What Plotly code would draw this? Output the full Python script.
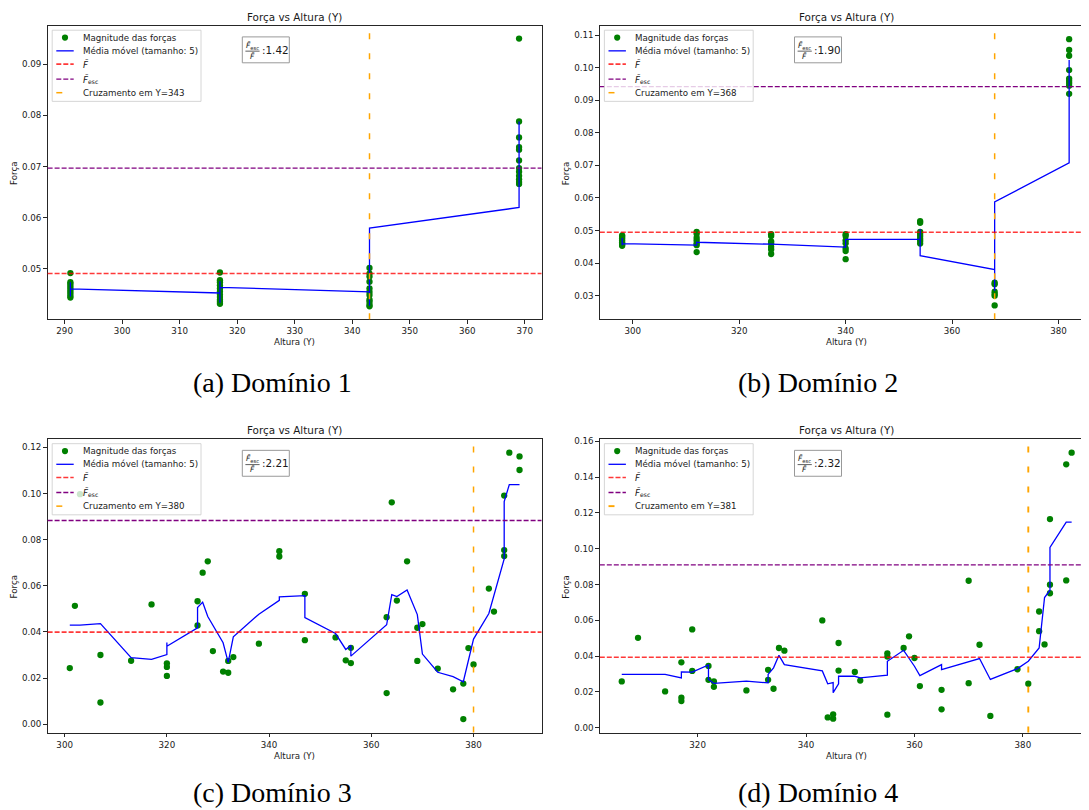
import plotly.graph_objects as go

# The page body has a default 8px margin, so the figure is placed at (8, 8)
# and sized to fill the rest of the 1089x810 window.
OX, OY = 8, 8
W, H = 1089 - OX, 810 - OY

# ---------------- data ----------------
# (a) Domínio 1
a_x = [291, 291, 291, 291, 291, 291, 291, 291, 291, 291,
       317, 317, 317, 317, 317, 317, 317, 317, 317, 317, 317,
       343, 343, 343, 343, 343, 343, 343, 343, 343, 343, 343,
       369, 369, 369, 369, 369, 369, 369, 369, 369, 369, 369, 369]
a_y = [0.0492, 0.0474, 0.0471, 0.0467, 0.0463, 0.0459, 0.0455, 0.0451, 0.0447, 0.0444,
       0.0493, 0.0478, 0.0474, 0.0468, 0.0462, 0.0456, 0.0450, 0.0445, 0.0440, 0.0436, 0.0432,
       0.0502, 0.0491, 0.0485, 0.0475, 0.0462, 0.0455, 0.0449, 0.0440, 0.0436, 0.0430, 0.0427,
       0.0950, 0.0788, 0.0757, 0.0738, 0.0733, 0.0712, 0.0697, 0.0690, 0.0682, 0.0675, 0.0670, 0.0666]
a_ma_x = [291, 291, 291, 317, 317, 317, 317, 343, 343, 343, 369, 369]
a_ma_y = [0.0474, 0.0446, 0.0461, 0.0453, 0.0476, 0.0434, 0.0464, 0.0455, 0.0428, 0.0580, 0.0620, 0.0788]

# (b) Domínio 2
b_x = [298, 298, 298, 298, 298, 298, 298, 298,
       312, 312, 312, 312, 312, 312, 312,
       326, 326, 326, 326, 326, 326, 326,
       340, 340, 340, 340, 340, 340, 340,
       354, 354, 354, 354, 354, 354, 354, 354,
       368, 368, 368, 368, 368, 368,
       382, 382, 382, 382, 382, 382, 382, 382, 382]
b_y = [0.0485, 0.0481, 0.0476, 0.0470, 0.0464, 0.0460, 0.0456, 0.0453,
       0.0496, 0.0490, 0.0478, 0.0470, 0.0461, 0.0455, 0.0434,
       0.0489, 0.0483, 0.0467, 0.0461, 0.0450, 0.0442, 0.0428,
       0.0489, 0.0483, 0.0470, 0.0461, 0.0445, 0.0437, 0.0412,
       0.0529, 0.0524, 0.0496, 0.0490, 0.0483, 0.0475, 0.0468, 0.0460,
       0.0340, 0.0335, 0.0312, 0.0305, 0.0300, 0.0270,
       0.1088, 0.1055, 0.1037, 0.0993, 0.0967, 0.0960, 0.0953, 0.0945, 0.0920]
b_ma_x = [298, 298, 298, 312, 312, 312, 326, 326, 340, 340, 340, 354, 354, 354, 368, 368, 368, 382, 382]
b_ma_y = [0.0477, 0.0455, 0.0460, 0.0455, 0.0466, 0.0464, 0.0458, 0.0458, 0.0449, 0.0474, 0.0473,
          0.0473, 0.0505, 0.0423, 0.0380, 0.0315, 0.0588, 0.0708, 0.1024]

# (c) Domínio 3
c_x = [301, 302, 303, 307, 307, 313, 317, 320, 320, 320, 326, 326, 327, 328, 329, 331, 332, 332,
       333, 338, 342, 342, 347, 347, 353, 355, 356, 356, 363, 363, 364, 365, 367, 369, 369, 370,
       373, 376, 378, 378, 379, 380, 383, 384, 386, 386, 386, 387, 389, 389]
c_y = [0.0243, 0.0513, 0.0997, 0.0300, 0.0094, 0.0275, 0.0519, 0.0264, 0.0248, 0.0209, 0.0533,
       0.0428, 0.0657, 0.0706, 0.0317, 0.0228, 0.0274, 0.0223, 0.0291, 0.0349, 0.0750, 0.0727,
       0.0565, 0.0364, 0.0376, 0.0277, 0.0331, 0.0265, 0.0464, 0.0135, 0.0962, 0.0536, 0.0706,
       0.0418, 0.0274, 0.0434, 0.0241, 0.0151, 0.0176, 0.0022, 0.0330, 0.0259, 0.0588, 0.0488,
       0.0991, 0.0755, 0.0729, 0.1177, 0.1161, 0.1102]
c_ma_x = [301, 303, 307, 313, 317, 320, 320, 320, 326, 326, 327, 328, 331, 332, 333, 338, 342, 342,
          347, 347, 353, 355, 356, 356, 363, 364, 365, 367, 369, 370, 373, 376, 378, 380, 383, 386,
          386, 387, 389]
c_ma_y = [0.0429, 0.0429, 0.0436, 0.0288, 0.0281, 0.0302, 0.0354, 0.0338, 0.0418, 0.0506, 0.0529,
          0.0467, 0.0353, 0.0268, 0.0379, 0.0477, 0.0537, 0.0552, 0.0557, 0.0462, 0.0393, 0.0324,
          0.0341, 0.0295, 0.0431, 0.0562, 0.0553, 0.0582, 0.0475, 0.0304, 0.0225, 0.0206, 0.0184,
          0.0369, 0.0480, 0.0717, 0.0965, 0.1039, 0.1039]

# (d) Domínio 4
d_x = [306, 309, 314, 317, 317, 317, 319, 319, 322, 322, 323, 323, 329, 333, 333, 334, 335, 336,
       343, 344, 345, 345, 346, 346, 349, 350, 355, 355, 355, 358, 359, 360, 361, 365, 365, 370,
       370, 372, 374, 379, 381, 383, 383, 384, 385, 385, 385, 388, 388, 389]
d_y = [0.0258, 0.0502, 0.0202, 0.0365, 0.0167, 0.0148, 0.0317, 0.0549, 0.0345, 0.0267, 0.0258,
       0.0228, 0.0208, 0.0323, 0.0267, 0.0217, 0.0445, 0.0430, 0.0599, 0.0057, 0.0074, 0.0050,
       0.0473, 0.0319, 0.0311, 0.0263, 0.0415, 0.0397, 0.0072, 0.0445, 0.0510, 0.0389, 0.0232,
       0.0211, 0.0102, 0.0821, 0.0248, 0.0463, 0.0065, 0.0326, 0.0245, 0.0649, 0.0539, 0.0465,
       0.1166, 0.0799, 0.0751, 0.1472, 0.0823, 0.1537]
d_ma_x = [306, 314, 317, 317, 319, 322, 322, 323, 329, 333, 333, 334, 335, 336, 343, 344, 345, 345,
          346, 346, 349, 350, 355, 355, 358, 360, 361, 365, 365, 370, 372, 374, 379, 381, 383, 384,
          385, 385, 388, 389]
d_ma_y = [0.0297, 0.0297, 0.0278, 0.0311, 0.0310, 0.0350, 0.0269, 0.0247, 0.0260, 0.0250, 0.0297,
          0.0334, 0.0404, 0.0352, 0.0317, 0.0245, 0.0252, 0.0195, 0.0245, 0.0287, 0.0287, 0.0278,
          0.0293, 0.0371, 0.0432, 0.0343, 0.0291, 0.0352, 0.0324, 0.0367, 0.0386, 0.0269, 0.0330,
          0.0371, 0.0445, 0.0727, 0.0768, 0.1007, 0.1149, 0.1149]

f_mean = [0.0491, 0.0495, 0.0399, 0.0393]
f_esc = [0.0697, 0.0942, 0.0883, 0.0910]
crossing = [343, 368, 380, 381]
ratios = ["1.42", "1.90", "2.21", "2.32"]
captions = ["(a) Domínio 1", "(b) Domínio 2", "(c) Domínio 3", "(d) Domínio 4"]

# ---------------- layout (window pixels) ----------------
panels = [
    dict(L=47.6, R=541.5, T=22.7, B=317.3, xr=[287.04, 372.9], yr=[0.04019, 0.09753],
         xt=[290, 300, 310, 320, 330, 340, 350, 360, 370], yt=[0.05, 0.06, 0.07, 0.08, 0.09],
         box=True, cap=(272.5, 381), orange_w=1.5),
    dict(L=599.8, R=1089, T=22.7, B=317.3, xr=[293.8, 385.73], yr=[0.02278, 0.11295],
         xt=[300, 320, 340, 360, 380], yt=[0.03, 0.04, 0.05, 0.06, 0.07, 0.08, 0.09, 0.10, 0.11],
         box=False, cap=(818, 381), orange_w=1.5),
    dict(L=47.6, R=541.5, T=437.7, B=732.3, xr=[296.66, 393.3], yr=[-0.00365, 0.1236],
         xt=[300, 320, 340, 360, 380], yt=[0.0, 0.02, 0.04, 0.06, 0.08, 0.10, 0.12],
         box=True, cap=(272.5, 792), orange_w=1.5),
    dict(L=599.8, R=1089, T=437.7, B=732.3, xr=[301.95, 392.2], yr=[-0.0028, 0.1613],
         xt=[320, 340, 360, 380], yt=[0.0, 0.02, 0.04, 0.06, 0.08, 0.10, 0.12, 0.14, 0.16],
         box=False, cap=(818, 792), orange_w=1.9),
]
series = [(a_x, a_y, a_ma_x, a_ma_y), (b_x, b_y, b_ma_x, b_ma_y),
          (c_x, c_y, c_ma_x, c_ma_y), (d_x, d_y, d_ma_x, d_ma_y)]


def px(x):
    return min(1.0, max(0.0, (x - OX) / W))


def py(y):
    return min(1.0, max(0.0, 1 - (y - OY) / H))


FONT = "DejaVu Sans"
TXT = "#1a1a1a"
FRAME = "#262626"
RED = "rgba(255,0,0,0.78)"
PURPLE = "purple"
DASH = "5px,2px"

fig = go.Figure()
layout = dict(width=W, height=H, margin=dict(l=0, r=0, t=0, b=0), autosize=False,
              paper_bgcolor="white", plot_bgcolor="white", showlegend=False,
              font=dict(family=FONT, size=8.7, color=TXT))
shapes = []
annotations = []

for i, (p, (sx, sy, mx, my)) in enumerate(zip(panels, series)):
    n = "" if i == 0 else str(i + 1)
    xa, ya = "x" + n, "y" + n
    L, R, T, B = p["L"], p["R"], p["T"], p["B"]

    fig.add_trace(go.Scatter(x=sx, y=sy, mode="markers", xaxis=xa, yaxis=ya,
                             marker=dict(color="green", size=6.3, line=dict(width=0)),
                             name="Magnitude das forças"))
    fig.add_trace(go.Scatter(x=mx, y=my, mode="lines", xaxis=xa, yaxis=ya,
                             line=dict(color="blue", width=1.3),
                             name="Média móvel (tamanho: 5)"))

    layout["xaxis" + n] = dict(domain=[px(L), px(R)], anchor=ya, range=p["xr"],
                               tickvals=p["xt"], ticktext=[str(v) for v in p["xt"]],
                               showline=True, linecolor=FRAME, linewidth=1, mirror=True,
                               ticks="outside", ticklen=3.5, tickwidth=0.8, tickcolor=FRAME,
                               showgrid=False, zeroline=False,
                               tickfont=dict(family=FONT, size=8.7, color=TXT))
    layout["yaxis" + n] = dict(domain=[py(B), py(T)], anchor=xa, range=p["yr"],
                               tickvals=p["yt"], ticktext=["%.2f" % v for v in p["yt"]],
                               showline=True, linecolor=FRAME, linewidth=1, mirror=p["box"],
                               ticks="outside", ticklen=3.5, tickwidth=0.8, tickcolor=FRAME,
                               showgrid=False, zeroline=False,
                               tickfont=dict(family=FONT, size=8.7, color=TXT))

    # reference lines
    shapes.append(dict(type="line", xref=xa + " domain", yref=ya, x0=0, x1=1,
                       y0=f_mean[i], y1=f_mean[i], layer="above",
                       line=dict(color=RED, width=1.6, dash=DASH)))
    shapes.append(dict(type="line", xref=xa + " domain", yref=ya, x0=0, x1=1,
                       y0=f_esc[i], y1=f_esc[i], layer="above",
                       line=dict(color=PURPLE, width=1.3, dash=DASH)))
    shapes.append(dict(type="line", xref=xa, yref=ya + " domain", x0=crossing[i], x1=crossing[i],
                       y0=0, y1=1, layer="above",
                       line=dict(color="orange", width=p["orange_w"], dash="6px,14px")))

    # title, axis labels, caption
    cx = (L + (R if i % 2 == 0 else L + 494)) / 2
    annotations.append(dict(x=px(cx), y=py(T - 8.7), xref="paper", yref="paper",
                            text="Força vs Altura (Y)", showarrow=False,
                            font=dict(family=FONT, size=10.4, color=TXT),
                            xanchor="center", yanchor="middle"))
    annotations.append(dict(x=px(cx), y=py(B + 23.4), xref="paper", yref="paper",
                            text="Altura (Y)", showarrow=False,
                            font=dict(family=FONT, size=8.7, color=TXT),
                            xanchor="center", yanchor="middle"))
    annotations.append(dict(x=px(L - 33.5), y=py((T + B) / 2 + 1.5), xref="paper", yref="paper",
                            text="Força", showarrow=False, textangle=-90,
                            font=dict(family=FONT, size=8.7, color=TXT),
                            xanchor="center", yanchor="middle"))
    annotations.append(dict(x=px(p["cap"][0]), y=py(p["cap"][1]), xref="paper", yref="paper",
                            text=captions[i], showarrow=False,
                            font=dict(family="Liberation Serif", size=28, color="black"),
                            xanchor="center", yanchor="middle"))

    # legend (drawn manually, matplotlib style)
    shapes.append(dict(type="rect", xref="paper", yref="paper",
                       x0=px(L + 4.6), x1=px(L + 153.4), y0=py(T + 76), y1=py(T + 4.6),
                       fillcolor="rgba(255,255,255,0.8)", layer="above",
                       line=dict(color="#cccccc", width=0.8)))
    rows = [T + 12, T + 25.3, T + 38.6, T + 53.6, T + 67.3]
    hx0, hx1 = L + 8.7, L + 26.1
    shapes.append(dict(type="circle", xref="paper", yref="paper",
                       x0=px(L + 17.4 - 3.1), x1=px(L + 17.4 + 3.1),
                       y0=py(rows[0] + 3.1), y1=py(rows[0] - 3.1),
                       fillcolor="green", line=dict(width=0), layer="above"))
    shapes.append(dict(type="line", xref="paper", yref="paper", x0=px(hx0), x1=px(hx1),
                       y0=py(rows[1]), y1=py(rows[1]), layer="above",
                       line=dict(color="blue", width=1.3)))
    shapes.append(dict(type="line", xref="paper", yref="paper", x0=px(hx0), x1=px(hx1),
                       y0=py(rows[2]), y1=py(rows[2]), layer="above",
                       line=dict(color=RED, width=1.6, dash=DASH)))
    shapes.append(dict(type="line", xref="paper", yref="paper", x0=px(hx0), x1=px(hx1),
                       y0=py(rows[3]), y1=py(rows[3]), layer="above",
                       line=dict(color=PURPLE, width=1.3, dash=DASH)))
    shapes.append(dict(type="line", xref="paper", yref="paper", x0=px(hx0), x1=px(hx0 + 6),
                       y0=py(rows[4]), y1=py(rows[4]), layer="above",
                       line=dict(color="orange", width=p["orange_w"])))
    labels = ["Magnitude das forças", "Média móvel (tamanho: 5)", "<i>F̄</i>",
              "<i>F̄</i><sub>esc</sub>", "Cruzamento em Y=%d" % crossing[i]]
    for r, lab in zip(rows, labels):
        annotations.append(dict(x=px(L + 33.1), y=py(r), xref="paper", yref="paper",
                                text=lab, showarrow=False, xanchor="left", yanchor="middle",
                                font=dict(family=FONT, size=8.7, color=TXT)))

    # ratio box
    shapes.append(dict(type="rect", xref="paper", yref="paper",
                       x0=px(L + 194.7), x1=px(L + 241.7), y0=py(T + 37.3), y1=py(T + 11.3),
                       fillcolor="white", layer="above", line=dict(color="#999999", width=1)))
    shapes.append(dict(type="line", xref="paper", yref="paper",
                       x0=px(L + 197.8), x1=px(L + 212.0), y0=py(T + 25.6), y1=py(T + 25.6),
                       layer="above", line=dict(color=TXT, width=0.7)))
    annotations.append(dict(x=px(L + 205), y=py(T + 20.0), xref="paper", yref="paper",
                            text="<i>F̄</i><sub>esc</sub>", showarrow=False,
                            xanchor="center", yanchor="middle",
                            font=dict(family=FONT, size=7.5, color=TXT)))
    annotations.append(dict(x=px(L + 205), y=py(T + 31.0), xref="paper", yref="paper",
                            text="<i>F̄</i>", showarrow=False,
                            xanchor="center", yanchor="middle",
                            font=dict(family=FONT, size=7.5, color=TXT)))
    annotations.append(dict(x=px(L + 212.5), y=py(T + 24.3), xref="paper", yref="paper",
                            text=":" + ratios[i], showarrow=False,
                            xanchor="left", yanchor="middle",
                            font=dict(family=FONT, size=10.4, color=TXT)))

layout["shapes"] = shapes
layout["annotations"] = annotations
fig.update_layout(**layout)
fig.write_html("out.html")
